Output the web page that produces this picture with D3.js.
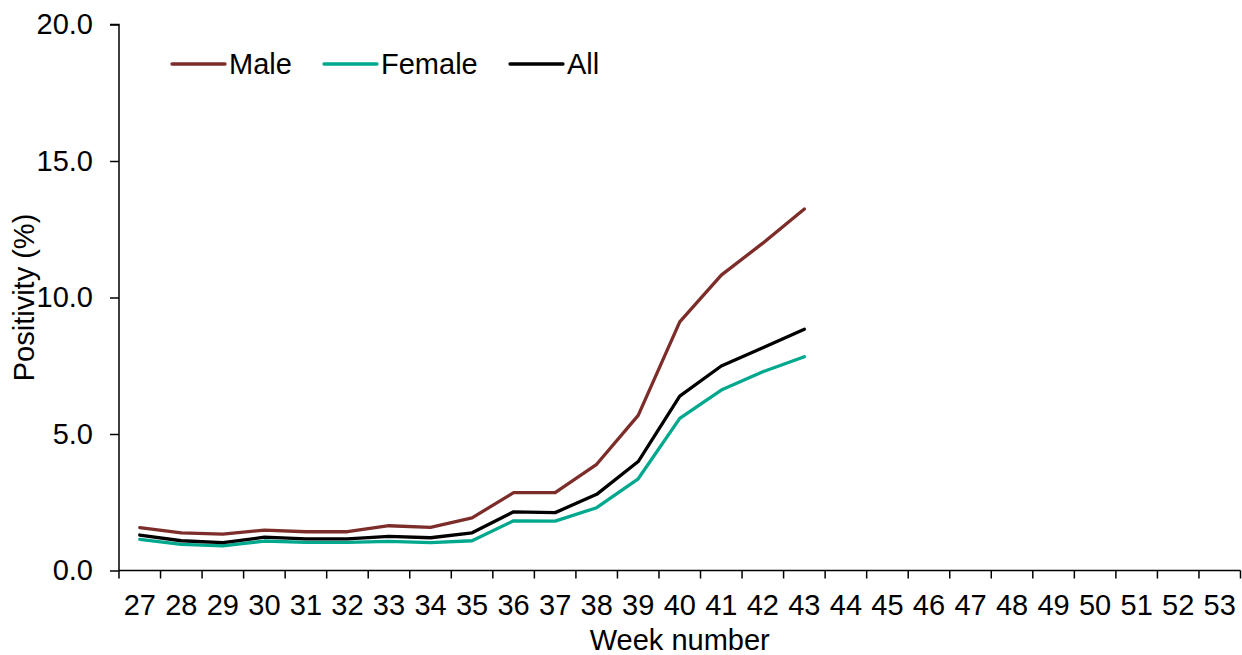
<!DOCTYPE html>
<html>
<head>
<meta charset="utf-8">
<script src="https://cdn.jsdelivr.net/npm/d3@7"></script>
<style>
  html, body { margin: 0; padding: 0; background: #fff; }
  svg { display: block; font-family: "Liberation Sans", Arial, sans-serif; }
</style>
</head>
<body>
<svg id="chart" width="1242" height="655"></svg>
<script>
const weeks = d3.range(27, 54).map(String);
const dataWeeks = d3.range(27, 44).map(String);
const male   = [1.57, 1.38, 1.33, 1.48, 1.42, 1.42, 1.64, 1.58, 1.93, 2.85, 2.85, 3.89, 5.68, 9.11, 10.82, 11.99, 13.24];
const female = [1.14, 0.96, 0.90, 1.08, 1.03, 1.03, 1.07, 1.02, 1.09, 1.82, 1.81, 2.30, 3.36, 5.57, 6.61, 7.28, 7.83];
const all    = [1.30, 1.09, 1.02, 1.22, 1.16, 1.16, 1.25, 1.20, 1.38, 2.15, 2.12, 2.79, 3.99, 6.39, 7.49, 8.16, 8.84];
const yTicks = [0, 5, 10, 15, 20];
const seriesNames = ["Male", "Female", "All"];
const seriesColors = ["#7C2D2A", "#00A88E", "#000000"];

const svg = d3.select("#chart");
const W = 1242, H = 655;
const m = { left: 119, right: 1.5, top: 24.5, bottom: 84.5 };
const FS = 29;

const x = d3.scaleBand().domain(weeks).range([m.left, W - m.right]).padding(0);
const y = d3.scaleLinear().domain([0, 20]).range([H - m.bottom, m.top]);

// Y axis
const yAxis = svg.append("g")
  .attr("transform", `translate(${m.left},0)`)
  .call(d3.axisLeft(y).tickValues(yTicks).tickFormat(d3.format(".1f")).tickSize(9).tickPadding(17));
yAxis.select(".domain").attr("stroke", "#000").attr("stroke-width", 1.5).attr("d", `M-9,${y(20)}H0V${y(0)}`);
yAxis.selectAll(".tick line").attr("stroke", "#000").attr("stroke-width", 1.5);
yAxis.selectAll(".tick text").attr("font-size", FS).attr("fill", "#000").attr("font-family", "Liberation Sans, Arial, sans-serif");

// X axis (ticks between categories)
const xAxis = svg.append("g")
  .attr("transform", `translate(0,${y(0)})`)
  .call(d3.axisBottom(x).tickSize(0).tickPadding(24));
xAxis.select(".domain").attr("stroke", "#000").attr("stroke-width", 1.5).attr("d", `M${x.range()[0]},0H${x.range()[1]}`);
xAxis.selectAll(".tick text").attr("font-size", FS).attr("fill", "#000").attr("font-family", "Liberation Sans, Arial, sans-serif");
const bounds = weeks.map(w => x(w)).concat([x(weeks[weeks.length - 1]) + x.bandwidth()]);
xAxis.selectAll("line.bt").data(bounds).enter().append("line")
  .attr("class", "bt")
  .attr("x1", d => d).attr("x2", d => d)
  .attr("y1", 0).attr("y2", 8)
  .attr("stroke", "#000").attr("stroke-width", 1.5);

// Axis titles
svg.append("text")
  .attr("x", (x.range()[0] + x.range()[1]) / 2)
  .attr("y", 650)
  .attr("text-anchor", "middle")
  .attr("font-size", FS)
  .text("Week number");
svg.append("text")
  .attr("transform", `translate(34,${(y(0) + y(20)) / 2}) rotate(-90)`)
  .attr("text-anchor", "middle")
  .attr("font-size", FS)
  .text("Positivity (%)");

// Lines
const line = d3.line()
  .x((d, i) => x(dataWeeks[i]) + x.bandwidth() / 2)
  .y(d => y(d));
[male, female, all].forEach((s, i) => {
  svg.append("path")
    .datum(s)
    .attr("fill", "none")
    .attr("stroke", seriesColors[i])
    .attr("stroke-width", 3.3)
    .attr("stroke-linejoin", "round")
    .attr("stroke-linecap", "round")
    .attr("d", line);
});

// Legend
const legX = [172, 324, 510];
const lg = svg.append("g");
seriesNames.forEach((n, i) => {
  lg.append("line")
    .attr("x1", legX[i]).attr("x2", legX[i] + 53)
    .attr("y1", 64).attr("y2", 64)
    .attr("stroke", seriesColors[i]).attr("stroke-width", 3.3)
    .attr("stroke-linecap", "round");
  lg.append("text")
    .attr("x", legX[i] + 57)
    .attr("y", 74)
    .attr("font-size", FS)
    .text(n);
});
</script>
</body>
</html>
